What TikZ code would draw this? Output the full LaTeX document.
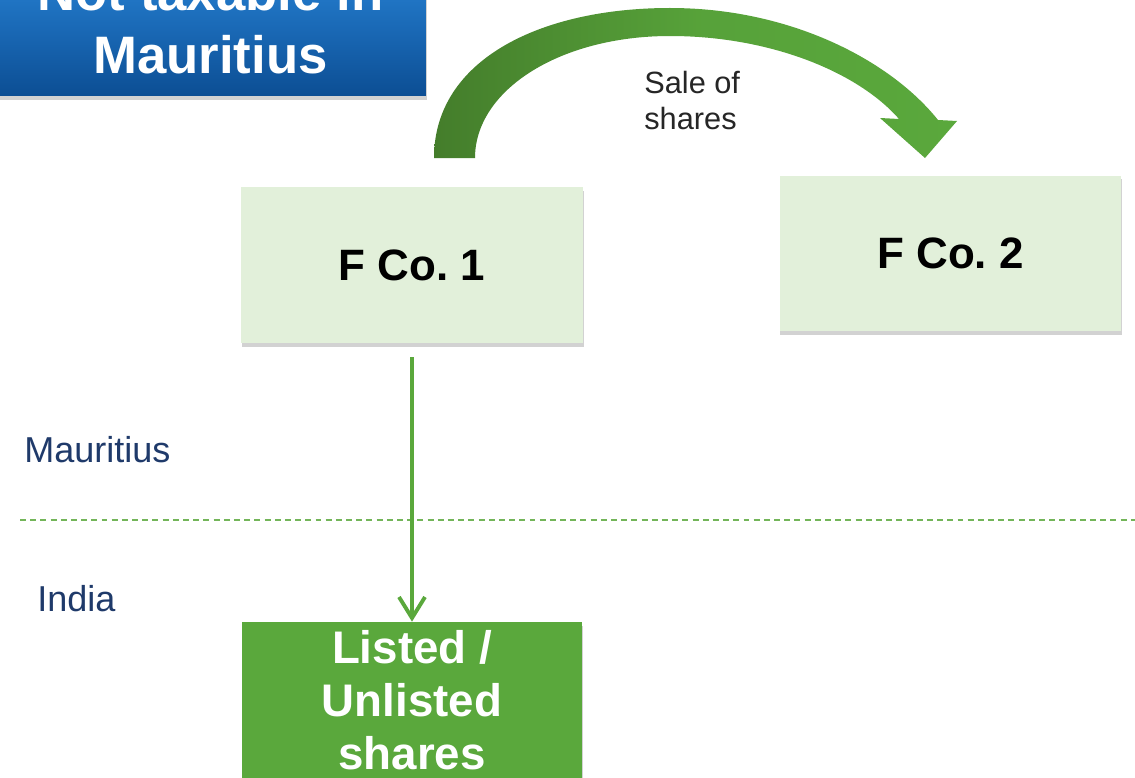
\documentclass[tikz,border=0pt]{standalone}
\usepackage{fontspec}
\setmainfont{Liberation Sans}
\usetikzlibrary{arrows.meta,shadows}
\definecolor{gmain}{HTML}{5AA83C}
\definecolor{gdark}{HTML}{447D2B}
\definecolor{gpale}{HTML}{E2F0DA}
\definecolor{btop}{HTML}{2A88DC}
\definecolor{bbot}{HTML}{0C4E94}
\definecolor{navy}{HTML}{1F3A6A}
\begin{document}
\frenchspacing
\begin{tikzpicture}[x=0.02cm,y=-0.02cm,
  softshadow/.style={drop shadow={shadow xshift=0.4pt,shadow yshift=-2.2pt,opacity=0.25,fill=black!70}},
  palebox/.style={fill=gpale,draw=none,minimum width=6.84cm,minimum height=3.12cm,inner sep=0pt,
    font=\fontsize{25}{30}\selectfont\bfseries,softshadow},
  bluebox/.style={top color=btop,bottom color=bbot,draw=none,minimum width=8.62cm,minimum height=2.92cm,
    inner sep=0pt,text=white,align=center,font=\fontsize{30}{36}\selectfont\bfseries,softshadow},
  sharebox/.style={fill=gmain,draw=none,minimum width=6.82cm,minimum height=3.12cm,inner sep=0pt,
    text=white,align=center,font=\fontsize{26}{30}\selectfont\bfseries,softshadow},
  country/.style={anchor=base west,inner sep=0pt,text=navy,font=\fontsize{20.5}{24}\selectfont},
  holding/.style={draw=gmain,line width=2.2pt,-{Straight Barb[length=0.42cm,width=0.52cm,line width=2.2pt]}},
  border/.style={draw=gmain!85,line width=0.8pt,dash pattern=on 3.4pt off 2.4pt}
]
\useasboundingbox (0,0) rectangle (1135,777);
\clip (0,0) rectangle (1135,777);
\fill[white] (0,0) rectangle (1135,777);

% dashed border between countries
\coordinate (dl) at (20,520);
\coordinate (dr) at (1135,520);
\draw[border] (dl) -- (dr);

% boxes
\node[bluebox] (tax) at (210.5,23) {Not taxable in\\Mauritius};
\node[palebox] (f1) at (412,265) {F Co. 1};
\node[palebox] (f2) at (950.5,253.5) {F Co. 2};
\node[sharebox] (sh) at (412,700) {Listed /\\Unlisted\\shares};

% country labels
\node[country] (mau) at (24,462) {Mauritius};
\node[country] (ind) at (37,611) {India};

% holding arrow
\draw[holding,shorten <=0.28cm] (f1.south) -- (sh.north);

% curved sale arrow
\shade[left color=gdark,right color=gmain,middle color=gmain!85!gdark]
  (434,158) .. controls (434,60) and (540,8) .. (670,8)
  .. controls (790,8) and (890,60) .. (938,120)
  -- (957,121) -- (925,158) -- (880,118) -- (899,119)
  .. controls (858,72) and (770,36) .. (670,36)
  .. controls (560,36) and (475,90) .. (475,158) -- cycle;

\node[anchor=base west,align=left,inner sep=0pt,font=\fontsize{17.5}{21}\selectfont,text=black!85] (sale) at (644,130) {Sale of\\shares};
\end{tikzpicture}
\end{document}
